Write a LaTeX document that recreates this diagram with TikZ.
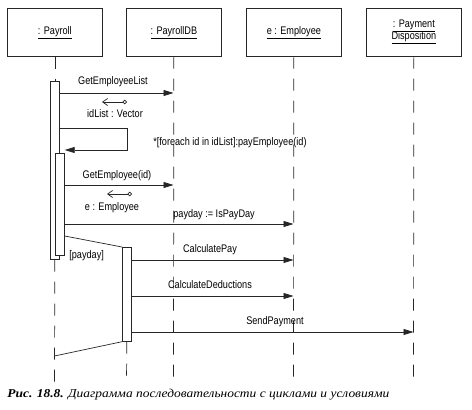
\documentclass[tikz,border=0pt]{standalone}
\usepackage{fontspec}
\setmainfont{Liberation Serif}
\newfontfamily\diagfont[FakeStretch=0.83]{Liberation Sans}
\newfontfamily\capfont[FakeStretch=1.12]{Liberation Serif}
\usetikzlibrary{arrows.meta}
\begin{document}
\begin{tikzpicture}[x=1pt,y=-1pt, line width=0.7pt, draw=black!85,
  objbox/.style={draw, minimum width=95pt, minimum height=48pt, inner sep=0pt, anchor=north west,
    font=\diagfont\fontsize{11}{13}\selectfont, align=center},
  actbox/.style={draw, fill=white, minimum width=9pt, inner sep=0pt, anchor=north west},
  lifeline/.style={dash pattern=on 12pt off 10pt},
  msg/.style={-{Triangle[length=10pt,width=6pt]}},
  ret/.style={{Circle[open,length=4.5pt,width=4.5pt]}-{Straight Barb[length=5pt,width=7pt]}},
  lbl/.style={font=\diagfont\fontsize{11}{13}\selectfont, inner sep=0pt},
]
\useasboundingbox (0,0) rectangle (472,410);
% objects
\node[objbox] (pr) at (7,8) {\underline{: Payroll}};
\node[objbox] (db) at (126,8) {\underline{: PayrollDB}};
\node[objbox] (em) at (246,8) {\underline{e : Employee}};
\node[objbox] (pd) at (366,8) {\underline{: Payment}\\[-1pt]\underline{Disposition}};
% lifeline ends
\coordinate (prEnd) at (54.5,382);
\coordinate (dbEnd) at (173.5,382);
\coordinate (emEnd) at (293.5,382);
\coordinate (pdEnd) at (413.5,382);
\coordinate (a3End) at (126.5,382);
% activations
\node[actbox, minimum height=178pt] (a1) at (50,81) {};
\node[actbox, minimum height=102pt] (a2) at (55,153) {};
\node[actbox, minimum height=94pt] (a3) at (122,247) {};
% lifelines
\draw[lifeline] (pr.south) -- (a1.north);
\draw[lifeline] (a1.south) -- (prEnd);
\draw[lifeline] (db.south) -- (dbEnd);
\draw[lifeline] (em.south) -- (emEnd);
\draw[lifeline] (pd.south) -- (pdEnd);
\draw[lifeline] (a3.south) -- (a3End);
% redraw activations on top
\node[actbox, minimum height=178pt] at (50,81) {};
\node[actbox, minimum height=102pt] at (55,153) {};
\node[actbox, minimum height=94pt] at (122,247) {};
% message points
\coordinate (m1) at (173.5,93);
\coordinate (m2) at (173.5,185);
\coordinate (m3) at (293.5,224);
\coordinate (m4) at (293.5,260);
\coordinate (m5) at (293.5,296);
\coordinate (m6) at (413.5,332);
\coordinate (sl1) at (127,128);
\coordinate (sl2) at (127,150);
\coordinate (r1a) at (127,102);
\coordinate (r1b) at (102,102);
\coordinate (r2a) at (132,194);
\coordinate (r2b) at (107,194);
\coordinate (tp) at (0,236);
\coordinate (bt) at (54.5,356);
% messages
\draw[msg] (a1.east |- m1) -- (m1);
\draw[ret] (r1a) -- (r1b);
\draw[msg] (a1.east |- sl1) -- (sl1) -- (sl2) -- (a2.east |- sl2);
\draw[msg] (a2.east |- m2) -- (m2);
\draw[ret] (r2a) -- (r2b);
\draw[msg] (a2.east |- m3) -- (m3);
\draw (a2.east |- tp) -- (a3.north west);
\draw (a3.south west) -- (bt);
\draw[msg] (a3.east |- m4) -- (m4);
\draw[msg] (a3.east |- m5) -- (m5);
\draw[msg] (a3.east |- m6) -- (m6);
% labels
\node[lbl, anchor=base] (l1) at (113,84) {GetEmployeeList};
\node[lbl, anchor=base] (l2) at (115,117) {idList : Vector};
\node[lbl, anchor=base west] (l3) at (153,145) {*[foreach id in idList]:payEmployee(id)};
\node[lbl, anchor=base] (l4) at (117,178) {GetEmployee(id)};
\node[lbl, anchor=base] (l5) at (112,210) {e : Employee};
\node[lbl, anchor=base west] (l6) at (173,217) {payday := IsPayDay};
\node[lbl, anchor=base west] (l7) at (69,258) {[payday]};
\node[lbl, anchor=base] (l8) at (210,252) {CalculatePay};
\node[lbl, anchor=base] (l9) at (210,288) {CalculateDeductions};
\node[lbl, anchor=base] (l10) at (275,324) {SendPayment};
% caption
\node[anchor=base west, inner sep=0pt] (cap) at (7,397) {\capfont\fontsize{12}{14}\selectfont\bfseries\itshape Рис. 18.8. \mdseries Диаграмма последовательности с циклами и условиями};
\end{tikzpicture}
\end{document}
